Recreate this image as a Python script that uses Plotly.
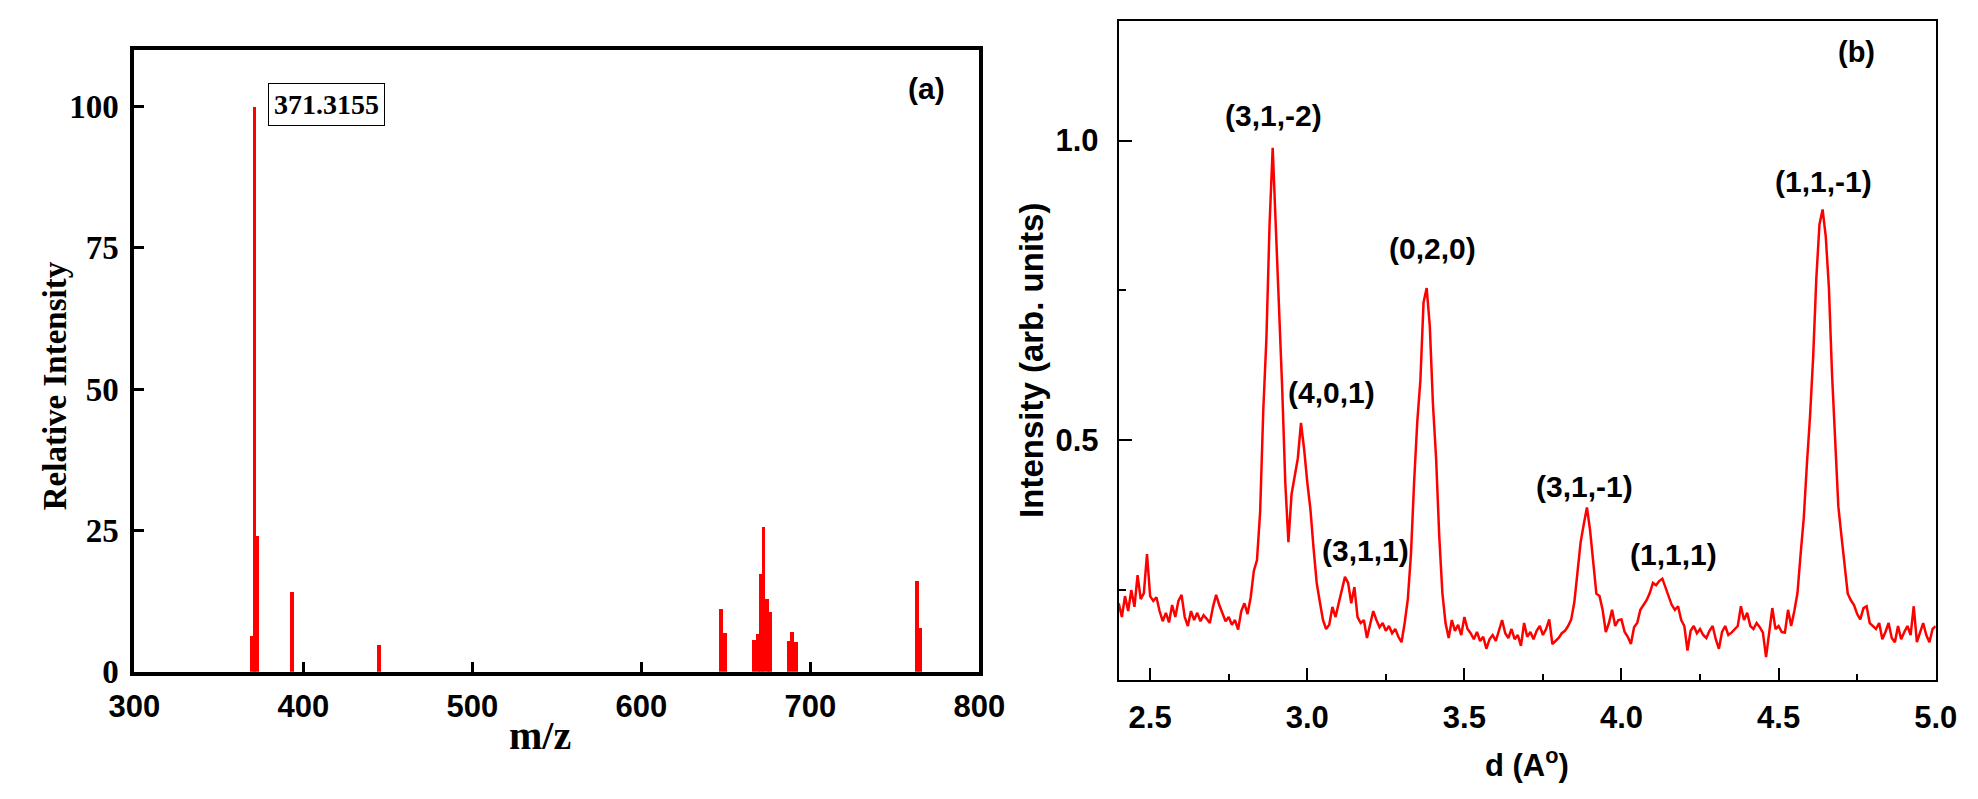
import plotly.graph_objects as go
from plotly.subplots import make_subplots

# (a) mass spectrum sticks
mzValues = [369.7, 371.3, 372.6, 393.4, 445.0, 647.5, 649.5, 667.0, 669.0,
            671.0, 672.4, 674.7, 676.1, 687.2, 689.4, 691.9, 763.0, 764.9]
relIntensity = [6.4, 100, 24.1, 14.1, 4.8, 11.2, 6.9, 5.7, 6.7,
                17.4, 25.7, 12.9, 10.6, 5.5, 7.0, 5.3, 16.1, 7.8]

# (b) XRD pattern vs d-spacing
dValues = [
    2.40, 2.41, 2.42, 2.43, 2.44, 2.45, 2.46, 2.47, 2.48, 2.49,
    2.50, 2.51, 2.52, 2.53, 2.54, 2.55, 2.56, 2.57, 2.58, 2.59,
    2.60, 2.61, 2.62, 2.63, 2.64, 2.65, 2.66, 2.67, 2.68, 2.69,
    2.70, 2.71, 2.72, 2.73, 2.74, 2.75, 2.76, 2.77, 2.78, 2.79,
    2.80, 2.81, 2.82, 2.83, 2.84, 2.85, 2.86, 2.87, 2.88, 2.89,
    2.90, 2.91, 2.92, 2.93, 2.94, 2.95, 2.96, 2.97, 2.98, 2.99,
    3.00, 3.01, 3.02, 3.03, 3.04, 3.05, 3.06, 3.07, 3.08, 3.09,
    3.10, 3.11, 3.12, 3.13, 3.14, 3.15, 3.16, 3.17, 3.18, 3.19,
    3.20, 3.21, 3.22, 3.23, 3.24, 3.25, 3.26, 3.27, 3.28, 3.29,
    3.30, 3.31, 3.32, 3.33, 3.34, 3.35, 3.36, 3.37, 3.38, 3.39,
    3.40, 3.41, 3.42, 3.43, 3.44, 3.45, 3.46, 3.47, 3.48, 3.49,
    3.50, 3.51, 3.52, 3.53, 3.54, 3.55, 3.56, 3.57, 3.58, 3.59,
    3.60, 3.61, 3.62, 3.63, 3.64, 3.65, 3.66, 3.67, 3.68, 3.69,
    3.70, 3.71, 3.72, 3.73, 3.74, 3.75, 3.76, 3.77, 3.78, 3.79,
    3.80, 3.81, 3.82, 3.83, 3.84, 3.85, 3.86, 3.87, 3.88, 3.89,
    3.90, 3.91, 3.92, 3.93, 3.94, 3.95, 3.96, 3.97, 3.98, 3.99,
    4.00, 4.01, 4.02, 4.03, 4.04, 4.05, 4.06, 4.07, 4.08, 4.09,
    4.10, 4.11, 4.12, 4.13, 4.14, 4.15, 4.16, 4.17, 4.18, 4.19,
    4.20, 4.21, 4.22, 4.23, 4.24, 4.25, 4.26, 4.27, 4.28, 4.29,
    4.30, 4.31, 4.32, 4.33, 4.34, 4.35, 4.36, 4.37, 4.38, 4.39,
    4.40, 4.41, 4.42, 4.43, 4.44, 4.45, 4.46, 4.47, 4.48, 4.49,
    4.50, 4.51, 4.52, 4.53, 4.54, 4.55, 4.56, 4.57, 4.58, 4.59,
    4.60, 4.61, 4.62, 4.63, 4.64, 4.65, 4.66, 4.67, 4.68, 4.69,
    4.70, 4.71, 4.72, 4.73, 4.74, 4.75, 4.76, 4.77, 4.78, 4.79,
    4.80, 4.81, 4.82, 4.83, 4.84, 4.85, 4.86, 4.87, 4.88, 4.89,
    4.90, 4.91, 4.92, 4.93, 4.94, 4.95, 4.96, 4.97, 4.98, 4.99,
    5.00,
]
xrdIntensity = [
    0.228, 0.205, 0.240, 0.215, 0.250, 0.222, 0.275, 0.235, 0.245, 0.310,
    0.240, 0.232, 0.238, 0.215, 0.198, 0.212, 0.196, 0.225, 0.205, 0.232,
    0.242, 0.205, 0.190, 0.215, 0.200, 0.212, 0.198, 0.208, 0.202, 0.195,
    0.222, 0.242, 0.225, 0.210, 0.198, 0.205, 0.192, 0.200, 0.184, 0.215,
    0.228, 0.210, 0.238, 0.282, 0.300, 0.380, 0.550, 0.670, 0.860, 0.988,
    0.860, 0.735, 0.590, 0.430, 0.330, 0.410, 0.440, 0.470, 0.529, 0.485,
    0.430, 0.385, 0.320, 0.262, 0.230, 0.200, 0.185, 0.192, 0.222, 0.205,
    0.228, 0.250, 0.272, 0.262, 0.228, 0.255, 0.205, 0.195, 0.200, 0.170,
    0.192, 0.215, 0.200, 0.188, 0.195, 0.182, 0.190, 0.178, 0.185, 0.172,
    0.163, 0.195, 0.235, 0.310, 0.430, 0.530, 0.600, 0.730, 0.754, 0.690,
    0.560, 0.470, 0.340, 0.245, 0.195, 0.170, 0.200, 0.182, 0.192, 0.175,
    0.205, 0.185, 0.178, 0.168, 0.180, 0.165, 0.172, 0.152, 0.168, 0.175,
    0.165, 0.182, 0.200, 0.178, 0.170, 0.185, 0.168, 0.175, 0.157, 0.195,
    0.172, 0.180, 0.168, 0.182, 0.190, 0.175, 0.185, 0.201, 0.160, 0.165,
    0.170, 0.178, 0.182, 0.190, 0.201, 0.230, 0.280, 0.330, 0.360, 0.388,
    0.350, 0.298, 0.244, 0.240, 0.217, 0.180, 0.195, 0.217, 0.190, 0.200,
    0.201, 0.180, 0.172, 0.160, 0.188, 0.195, 0.217, 0.225, 0.233, 0.245,
    0.262, 0.258, 0.265, 0.269, 0.255, 0.240, 0.225, 0.217, 0.223, 0.200,
    0.190, 0.149, 0.182, 0.190, 0.178, 0.185, 0.175, 0.170, 0.182, 0.190,
    0.168, 0.152, 0.180, 0.190, 0.175, 0.179, 0.185, 0.190, 0.223, 0.200,
    0.212, 0.190, 0.185, 0.195, 0.188, 0.179, 0.138, 0.179, 0.220, 0.185,
    0.190, 0.180, 0.179, 0.217, 0.190, 0.215, 0.245, 0.310, 0.370, 0.460,
    0.540, 0.640, 0.770, 0.860, 0.885, 0.840, 0.755, 0.610, 0.500, 0.390,
    0.340, 0.290, 0.244, 0.233, 0.225, 0.210, 0.201, 0.220, 0.223, 0.195,
    0.190, 0.185, 0.195, 0.168, 0.180, 0.195, 0.170, 0.163, 0.190, 0.168,
    0.180, 0.190, 0.175, 0.223, 0.163, 0.180, 0.195, 0.175, 0.163, 0.185,
    0.190,
]

peakLabels = ["(3,1,-2)", "(4,0,1)", "(3,1,1)", "(0,2,0)", "(3,1,-1)", "(1,1,1)", "(1,1,-1)"]
peakLabelX = [2.894, 3.076, 3.186, 3.400, 3.881, 4.166, 4.644]
peakLabelY = [1.042, 0.580, 0.316, 0.820, 0.422, 0.309, 0.931]

serif = "Liberation Serif, Times New Roman, serif"
sans = "Liberation Sans, Arial, sans-serif"

fig = make_subplots(rows=1, cols=2)

fig.add_trace(go.Bar(x=mzValues, y=relIntensity, width=2.3,
                     marker=dict(color="#ff0000", line=dict(width=0)),
                     showlegend=False), row=1, col=1)
fig.add_trace(go.Scatter(x=dValues, y=xrdIntensity, mode="lines",
                         line=dict(color="#ff0000", width=2.5),
                         showlegend=False), row=1, col=2)

fig.update_layout(
    width=1978, height=799,
    margin=dict(l=0, r=0, t=0, b=0),
    plot_bgcolor="white", paper_bgcolor="white",
    bargap=0,
    xaxis=dict(domain=[0.0521, 0.4909], range=[300, 800],
               tickvals=[300, 400, 500, 600, 700, 800],
               ticks="inside", ticklen=10, tickwidth=3, tickcolor="black",
               showline=True, linewidth=4, linecolor="black", mirror=True,
               showgrid=False, zeroline=False, ticklabelstandoff=4,
               tickfont=dict(family=sans, size=31, color="black", weight="bold")),
    yaxis=dict(domain=[0.1489, 0.9462], range=[0, 110],
               tickvals=[0, 25, 50, 75, 100],
               ticks="inside", ticklen=10, tickwidth=3, tickcolor="black",
               showline=True, linewidth=4, linecolor="black", mirror=True,
               showgrid=False, zeroline=False, ticklabelstandoff=5,
               tickfont=dict(family=serif, size=33, color="black", weight="bold")),
    xaxis2=dict(domain=[0.5632, 0.9874], range=[2.4, 5.0],
                tick0=2.5, dtick=0.5, tickformat=".1f",
                ticks="inside", ticklen=12, tickwidth=2, tickcolor="black",
                minor=dict(dtick=0.25, tick0=2.5, ticks="inside", ticklen=6, tickwidth=2, tickcolor="black"),
                showline=True, linewidth=2, linecolor="black", mirror=True,
                showgrid=False, zeroline=False, ticklabelstandoff=9,
                tickfont=dict(family=sans, size=31, color="black", weight="bold")),
    yaxis2=dict(domain=[0.1385, 0.9837], range=[0.1, 1.2],
                tick0=0, dtick=0.5, tickformat=".1f",
                ticks="inside", ticklen=13, tickwidth=2, tickcolor="black",
                minor=dict(dtick=0.25, tick0=0, ticks="inside", ticklen=7, tickwidth=2, tickcolor="black"),
                showline=True, linewidth=2, linecolor="black", mirror=True,
                showgrid=False, zeroline=False, ticklabelstandoff=12,
                tickfont=dict(family=sans, size=31, color="black", weight="bold")),
)

# axis titles placed where the reference has them
fig.add_annotation(x=0.0106, y=0.5156, xref="paper", yref="paper", text="<b>Relative Intensity</b>",
                   textangle=-90, showarrow=False, xanchor="center", yanchor="middle",
                   font=dict(family=serif, size=33, color="black"))
fig.add_annotation(x=0.2629, y=0.0676, xref="paper", yref="paper", text="<b>m/z</b>",
                   showarrow=False, xanchor="center", yanchor="middle",
                   font=dict(family=serif, size=40, color="black"))
fig.add_annotation(x=0.5182, y=0.5476, xref="paper", yref="paper", text="<b>Intensity (arb. units)</b>",
                   textangle=-90, showarrow=False, xanchor="center", yanchor="middle",
                   font=dict(family=sans, size=33, color="black"))
fig.add_annotation(x=0.775, y=0.0325, xref="paper", yref="paper", text="<b>d (A<sup>o</sup>)</b>",
                   showarrow=False, xanchor="center", yanchor="middle",
                   font=dict(family=sans, size=31, color="black"))

fig.add_annotation(x=413.5, y=100.3, xref="x", yref="y", text="<b>371.3155</b>",
                   showarrow=False, bordercolor="black", borderwidth=1, borderpad=5,
                   bgcolor="white", font=dict(family=serif, size=28, color="black"))
fig.add_annotation(x=768.7, y=103.1, xref="x", yref="y", text="<b>(a)</b>",
                   showarrow=False, font=dict(family=sans, size=30, color="black"))
fig.add_annotation(x=4.748, y=1.147, xref="x2", yref="y2", text="<b>(b)</b>",
                   showarrow=False, font=dict(family=sans, size=29, color="black"))

for label, lx, ly in zip(peakLabels, peakLabelX, peakLabelY):
    fig.add_annotation(x=lx, y=ly, xref="x2", yref="y2", text="<b>" + label + "</b>",
                       showarrow=False, font=dict(family=sans, size=30, color="black"))

fig.write_html("out.html")
